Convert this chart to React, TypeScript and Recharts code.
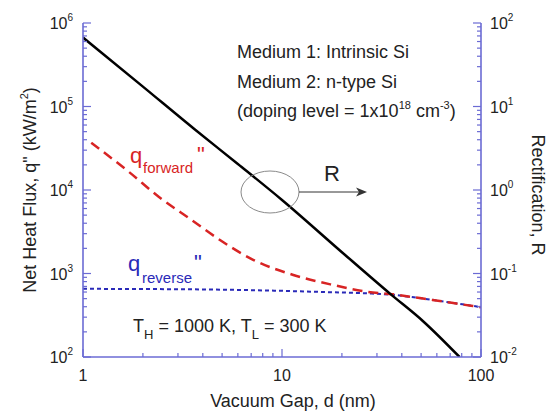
import { LineChart, Line, XAxis, YAxis } from 'recharts'

const AXIS = '#6b6bd4'
const INK = '#222'
const RED = '#d82424'
const BLUE = '#2a2ab8'
const FONT = '"Liberation Sans", Arial, Helvetica, sans-serif'

// vacuum gap ticks (nm), log axis
const gapTicks = [1, 2, 3, 4, 5, 6, 7, 8, 9, 10, 20, 30, 40, 50, 60, 70, 80, 90, 100]

// heat flux ticks (kW/m^2)
const fluxTicks = [
  1e2, 2e2, 3e2, 4e2, 5e2, 6e2, 7e2, 8e2, 9e2,
  1e3, 2e3, 3e3, 4e3, 5e3, 6e3, 7e3, 8e3, 9e3,
  1e4, 2e4, 3e4, 4e4, 5e4, 6e4, 7e4, 8e4, 9e4,
  1e5, 2e5, 3e5, 4e5, 5e5, 6e5, 7e5, 8e5, 9e5,
  1e6,
]

// rectification ticks
const rectTicks = [
  0.01, 0.02, 0.03, 0.04, 0.05, 0.06, 0.07, 0.08, 0.09,
  0.1, 0.2, 0.3, 0.4, 0.5, 0.6, 0.7, 0.8, 0.9,
  1, 2, 3, 4, 5, 6, 7, 8, 9,
  10, 20, 30, 40, 50, 60, 70, 80, 90,
  100,
]

// q_forward''
const gapForward = [1.1, 1.7, 2.4, 3.5, 4.9, 7.2, 11.4, 18, 26.7, 36, 57, 91, 100]
const qForward = [36800, 16500, 8300, 4400, 2500, 1450, 960, 730, 605, 563, 482, 408, 395]

// q_reverse''
const gapReverse = [1, 2, 5, 10, 15, 27, 36, 50, 70, 100]
const qReverse = [655, 652, 640, 620, 603, 578, 555, 505, 450, 395]

// rectification R (right axis)
const gapRect = [1, 2, 3.65, 6, 10, 20, 35, 51, 78]
const rect = [67, 17.3, 5.3, 2.05, 0.76, 0.18, 0.057, 0.027, 0.01]

const forwardData = gapForward.map((x, i) => ({ x, y: qForward[i] }))
const reverseData = gapReverse.map((x, i) => ({ x, y: qReverse[i] }))
const rectData = gapRect.map((x, i) => ({ x, r: rect[i] }))

const exponent = (v: number) => Math.round(Math.log10(v))
const isDecade = (v: number) => Math.abs(Math.log10(v) - exponent(v)) < 1e-6

function Pow10({ x, y, v, anchor }: { x: number; y: number; v: number; anchor: 'start' | 'end' }) {
  return (
    <text x={x} y={y} textAnchor={anchor} fontSize={16} fill={INK} fontFamily={FONT}>
      10<tspan fontSize={10} dy={-8}>{exponent(v)}</tspan>
    </text>
  )
}

function LeftTick(props: any) {
  const { x, y, payload } = props
  const v = payload.value
  const major = isDecade(v)
  return (
    <g>
      <line x1={x} y1={y} x2={x + (major ? 8 : 4)} y2={y} stroke={AXIS} strokeWidth={1.2} />
      {major && <Pow10 x={x - 10} y={y + 6} v={v} anchor="end" />}
    </g>
  )
}

function RightTick(props: any) {
  const { x, y, payload } = props
  const v = payload.value
  const major = isDecade(v)
  return (
    <g>
      <line x1={x} y1={y} x2={x - (major ? 8 : 4)} y2={y} stroke={AXIS} strokeWidth={1.2} />
      {major && <Pow10 x={x + 9} y={y + 6} v={v} anchor="start" />}
    </g>
  )
}

function BottomTick(props: any) {
  const { x, y, payload } = props
  const v = payload.value
  const major = isDecade(v)
  return (
    <g>
      <line x1={x} y1={y} x2={x} y2={y - (major ? 8 : 4)} stroke={AXIS} strokeWidth={1.2} />
      {major && (
        <text x={x} y={y + 24} textAnchor="middle" fontSize={16} fill={INK} fontFamily={FONT}>
          {v}
        </text>
      )}
    </g>
  )
}

function TopTick(props: any) {
  const { x, y, payload } = props
  const major = isDecade(payload.value)
  return <line x1={x} y1={y} x2={x} y2={y + (major ? 8 : 4)} stroke={AXIS} strokeWidth={1.2} />
}

function Annotations() {
  return (
    <svg
      width={555}
      height={416}
      style={{ position: 'absolute', left: 0, top: 0, pointerEvents: 'none' }}
      fontFamily={FONT}
    >
      {/* axis titles */}
      <text x={293} y={407} textAnchor="middle" fontSize={18} fill={INK}>
        Vacuum Gap, d (nm)
      </text>
      <text x={30} y={196} textAnchor="middle" fontSize={18} fill={INK} transform="rotate(-90 30 190)">
        Net Heat Flux, q" (kW/m<tspan fontSize={11} dy={-8}>2</tspan><tspan dy={8}>)</tspan>
      </text>
      <text x={538} y={201} textAnchor="middle" fontSize={18} fill={INK} transform="rotate(90 538 195)">
        Rectification, R
      </text>

      {/* material notes */}
      <text x={237} y={58} fontSize={18} fill={INK}>Medium 1: Intrinsic Si</text>
      <text x={237} y={88} fontSize={18} fill={INK}>Medium 2: n-type Si</text>
      <text x={237} y={117} fontSize={18} fill={INK}>
        (doping level = 1x10<tspan fontSize={11} dy={-8}>18</tspan>
        <tspan dy={8}> cm</tspan>
        <tspan fontSize={11} dy={-8}>-3</tspan>
        <tspan dy={8}>)</tspan>
      </text>

      {/* series labels */}
      <text x={130} y={163} fontSize={22} fill={RED}>q</text>
      <text x={143} y={173} fontSize={15} fill={RED}>forward</text>
      <text x={197} y={162} fontSize={22} fill={RED}>"</text>

      <text x={128} y={271} fontSize={22} fill={BLUE}>q</text>
      <text x={142} y={283} fontSize={15} fill={BLUE}>reverse</text>
      <text x={194} y={270} fontSize={22} fill={BLUE}>"</text>

      {/* R pointer */}
      <ellipse cx={270} cy={192} rx={29} ry={21} fill="none" stroke="#8a8a8a" strokeWidth={1} />
      <line x1={299} y1={192} x2={360} y2={192} stroke="#333" strokeWidth={1} />
      <polygon points="367,192 356,187.5 359,192 356,196.5" fill="#333" />
      <text x={332} y={181} textAnchor="middle" fontSize={22} fill={INK}>R</text>

      <text x={133} y={332} fontSize={18} fill={INK}>
        T<tspan fontSize={13} dy={7}>H</tspan>
        <tspan dy={-7}> = 1000 K, T</tspan>
        <tspan fontSize={13} dy={7}>L</tspan>
        <tspan dy={-7}> = 300 K</tspan>
      </text>
    </svg>
  )
}

export default function App() {
  return (
    <div
      style={{
        position: 'absolute',
        left: 0,
        top: 0,
        width: 555,
        height: 416,
        background: '#fff',
        fontFamily: FONT,
      }}
    >
      <LineChart width={555} height={416} margin={{ top: 23, right: 0, bottom: 0, left: 0 }}>
        <XAxis
          xAxisId="bottom"
          dataKey="x"
          type="number"
          scale="log"
          domain={[1, 100]}
          allowDataOverflow
          ticks={gapTicks}
          interval={0}
          height={59}
          tickSize={0}
          tickMargin={0}
          tickLine={false}
          tick={BottomTick}
          axisLine={{ stroke: AXIS, strokeWidth: 1.6 }}
        />
        <XAxis
          xAxisId="top"
          orientation="top"
          dataKey="x"
          type="number"
          scale="log"
          domain={[1, 100]}
          allowDataOverflow
          ticks={gapTicks}
          interval={0}
          height={0}
          tickSize={0}
          tickMargin={0}
          tickLine={false}
          tick={TopTick}
          axisLine={{ stroke: AXIS, strokeWidth: 1.6 }}
        />
        <YAxis
          yAxisId="left"
          type="number"
          scale="log"
          domain={[100, 1e6]}
          allowDataOverflow
          ticks={fluxTicks}
          interval={0}
          width={83}
          tickSize={0}
          tickMargin={0}
          tickLine={false}
          tick={LeftTick}
          axisLine={{ stroke: AXIS, strokeWidth: 1.6 }}
        />
        <YAxis
          yAxisId="right"
          orientation="right"
          type="number"
          scale="log"
          domain={[0.01, 100]}
          allowDataOverflow
          ticks={rectTicks}
          interval={0}
          width={74}
          tickSize={0}
          tickMargin={0}
          tickLine={false}
          tick={RightTick}
          axisLine={{ stroke: AXIS, strokeWidth: 1.6 }}
        />
        <Line
          xAxisId="bottom"
          yAxisId="left"
          data={reverseData}
          dataKey="y"
          type="monotone"
          stroke={BLUE}
          strokeWidth={2}
          strokeDasharray="4 3"
          dot={false}
          isAnimationActive={false}
        />
        <Line
          xAxisId="bottom"
          yAxisId="left"
          data={forwardData}
          dataKey="y"
          type="monotone"
          stroke={RED}
          strokeWidth={2.5}
          strokeDasharray="10 6"
          dot={false}
          isAnimationActive={false}
        />
        <Line
          xAxisId="bottom"
          yAxisId="right"
          data={rectData}
          dataKey="r"
          type="monotone"
          stroke="#000"
          strokeWidth={2.5}
          dot={false}
          isAnimationActive={false}
        />
      </LineChart>
      <Annotations />
    </div>
  )
}
